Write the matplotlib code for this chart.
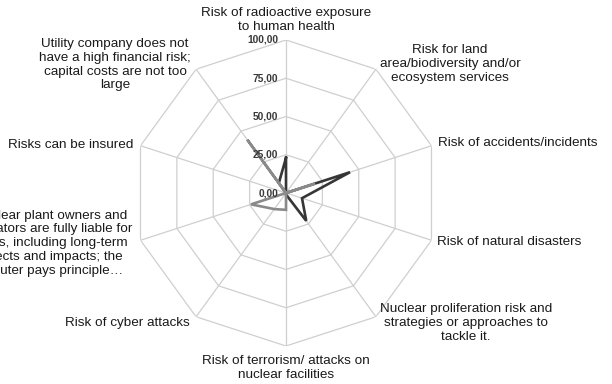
import numpy as np
import matplotlib
matplotlib.use("Agg")
import matplotlib.pyplot as plt

plt.rcParams['font.family'] = ['Liberation Sans', 'DejaVu Sans']

categories = [
    "Risk of radioactive exposure\nto human health",
    "Risk for land\narea/biodiversity and/or\necosystem services",
    "Risk of accidents/incidents",
    "Risk of natural disasters",
    "Nuclear proliferation risk and\nstrategies or approaches to\ntackle it.",
    "Risk of terrorism/ attacks on\nnuclear facilities",
    "Risk of cyber attacks",
    "Nuclear plant owners and\noperators are fully liable for\ncosts, including long-term\neffects and impacts; the\npolluter pays principle\u2026",
    "Risks can be insured",
    "Utility company does not\nhave a high financial risk;\ncapital costs are not too\nlarge",
]
series_dark = [23, 0, 44, 11, 22.5, 1, 0, 0, 0, 8]
series_light = [0, 0, 20, 0, 0, 11, 13, 24, 0, 43]
ring_values = [0, 25, 50, 75, 100]
ring_labels = ["0,00", "25,00", "50,00", "75,00", "100,00"]

# label placement (pixel offsets from the outer vertex) and alignment
label_offsets = [(0, 20), (74, 5), (6.5, 2.5), (5.5, -1.7), (90, -6),
                 (0, -22), (-6, -6), (-89.5, -3), (-7.5, 0.7), (-81, 4.5)]
label_ha = ['center', 'center', 'left', 'left', 'center',
            'center', 'right', 'center', 'right', 'center']

n = len(categories)
angles = np.linspace(0, 2 * np.pi, n, endpoint=False)
closed = np.concatenate([angles, angles[:1]])

fig = plt.figure(figsize=(6.12, 3.84), dpi=100)
ax = fig.add_axes([133 / 612, 38 / 384, 306 / 612, 306 / 384], projection='polar')
ax.set_theta_zero_location('N')
ax.set_theta_direction(-1)
ax.set_ylim(0, 100)
ax.grid(False)
ax.set_xticks([])
ax.set_yticks([])
ax.spines['polar'].set_visible(False)
ax.patch.set_visible(False)

grid_color = '#cfcfcf'
for r in ring_values[1:]:
    ax.plot(closed, [r] * (n + 1), color=grid_color, lw=0.9, zorder=1)
for a in angles:
    ax.plot([a, a], [0, ring_values[-1]], color=grid_color, lw=0.9, zorder=1)

ax.plot(closed, series_dark + series_dark[:1], color='#363636', lw=1.9,
        zorder=3, solid_joinstyle='miter')
ax.plot(closed, series_light + series_light[:1], color='#8a8a8a', lw=1.9,
        zorder=4, solid_joinstyle='miter')

for r, lab in zip(ring_values, ring_labels):
    ax.annotate(lab, xy=(0, r), xytext=(-8, 0), textcoords='offset pixels',
                ha='right', va='center', fontsize=7.4, fontweight='bold',
                color='#3a3a3a', annotation_clip=False, zorder=5)

for a, lab, off, ha in zip(angles, categories, label_offsets, label_ha):
    ax.annotate(lab, xy=(a, ring_values[-1]), xytext=off, textcoords='offset pixels',
                ha=ha, va='center', multialignment='center', fontsize=9.7,
                color='#1a1a1a', annotation_clip=False)

fig.savefig('out.png', dpi=100)
